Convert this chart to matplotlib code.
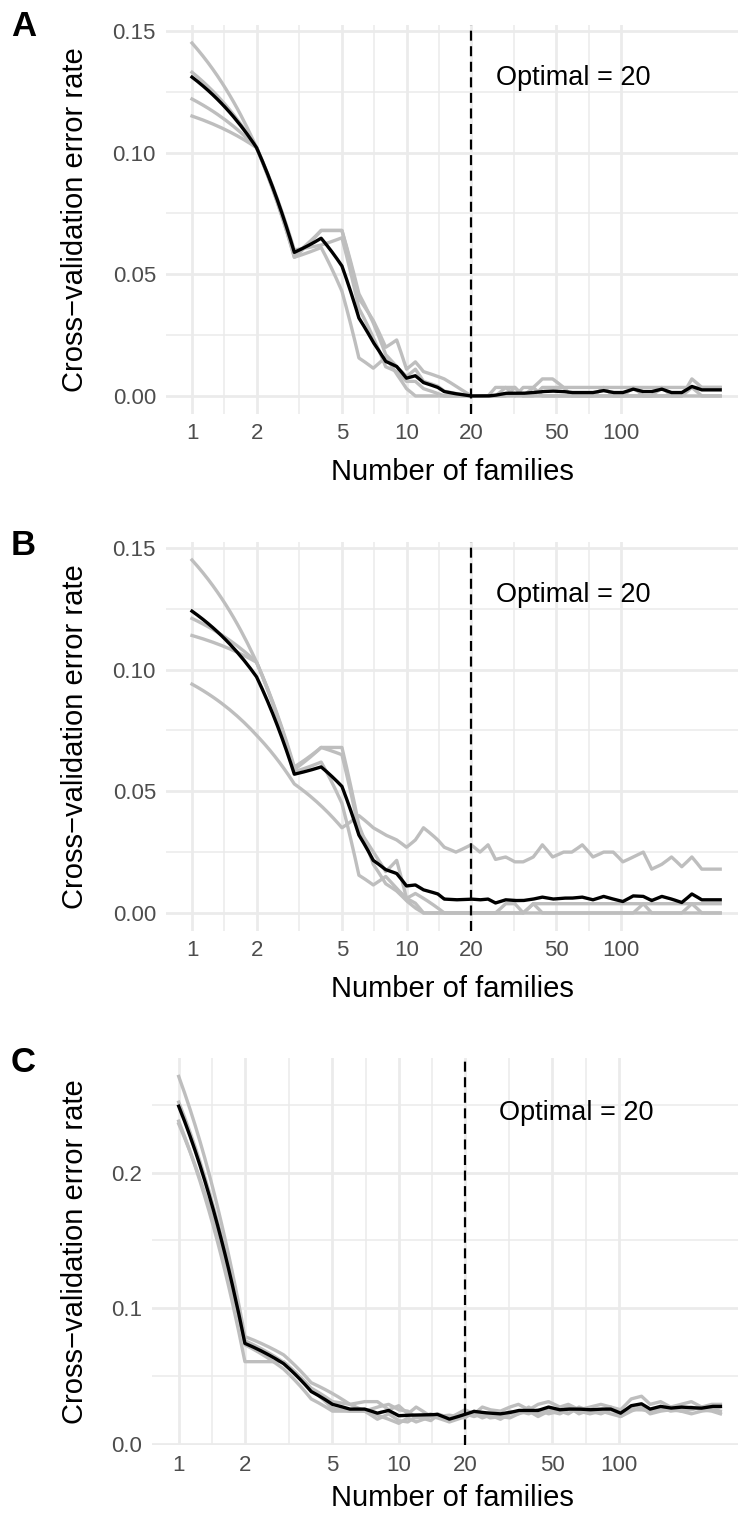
import numpy as np
import matplotlib
matplotlib.use("Agg")
import matplotlib.pyplot as plt
from matplotlib.ticker import NullFormatter

plt.rcParams["font.family"] = ["Liberation Sans", "DejaVu Sans"]

# number of families kept in each model
families = [1, 2, 3, 4, 5, 6, 7, 8, 9, 10, 11, 12, 14, 15, 17, 20,
            22, 24, 26, 29, 32, 35, 39, 43, 48, 54, 59, 66, 74, 83, 92,
            102, 114, 127, 139, 155, 172, 192, 214, 238, 265, 290]
optimal = 20

# panel A: mean error and the four folds
a_mean = [.131, .102, .059, .0648, .0534, .032, .022, .0142, .0121, .0073, .0083, .0055, .0035, .0018, .0009, 0,
          0, 0, .0003, .0011, .0011, .0011, .0014, .0018, .0020, .0018, .0014, .0014, .0014, .0022, .0014,
          .0014, .0028, .0018, .0018, .0028, .0014, .0014, .0039, .0025, .0025, .0025]
a_fold1 = [.145, .102, .057, .068, .068, .040, .031, .020, .023, .011, .014, .010, .008, .007, .004, 0,
           0, 0, .0035, .0035, 0, .0035, .0035, .007, .007, .0035, .0035, .0035, .0035, .0035, .0035,
           .0035, .0035, .0035, .0035, .0035, .0035, .0035, .0035, .0035, .0035, .0035]
a_fold2 = [.133, .102, .058, .068, .068, .042, .030, .017, .012, .008, .011, .006, .004, .002, .001, 0,
           0, 0, 0, 0, .0035, 0, 0, .0035, .0035, .0035, 0, 0, 0, .0035, 0,
           0, .0035, 0, 0, .0035, 0, 0, .007, .0035, .0035, .0035]
a_fold3 = [.122, .102, .060, .062, .065, .036, .024, .012, .010, .006, .006, .003, .001, 0, 0, 0,
           0, 0, 0, .0035, .0035, 0, .0035, 0, 0, 0, 0, 0, 0, 0, 0,
           0, 0, 0, 0, 0, 0, 0, .0035, 0, 0, 0]
a_fold4 = [.115, .102, .057, .061, .043, .0156, .0114, .016, .009, .003, 0, 0, 0, 0, 0, 0,
           0, 0, 0, 0, 0, 0, 0, 0, 0, 0, 0, 0, 0, 0, 0,
           0, 0, 0, 0, 0, 0, 0, 0, 0, 0, 0]

# panel B
b_mean = [.124, .097, .057, .060, .052, .032, .0216, .0178, .0162, .0111, .0115, .0095, .0078, .0057, .0054, .0057,
          .0054, .0057, .0041, .0054, .0051, .0051, .0057, .0065, .0057, .0061, .0061, .0065, .0054, .0068, .0057,
          .0047, .0070, .0068, .0051, .0068, .0057, .0043, .0078, .0054, .0054, .0054]
b_fold1 = [.145, .103, .060, .068, .068, .036, .020, .012, .009, .005, .002, 0, 0, 0, 0, 0,
           0, 0, 0, 0, 0, 0, .0038, 0, 0, 0, 0, 0, 0, 0, 0,
           0, 0, .0038, 0, 0, 0, 0, .0038, 0, 0, 0]
b_fold2 = [.121, .103, .059, .068, .065, .034, .025, .017, .0216, .006, .008, .006, .002, 0, 0, 0,
           0, 0, 0, .0038, .0038, 0, .0038, .0038, .0038, .0038, .0038, .0038, .0038, .0038, .0038,
           .0038, .0038, .0038, .0038, .0038, .0038, .0038, .0038, .0038, .0038, .0038]
b_fold3 = [.114, .103, .058, .062, .045, .0155, .0115, .015, .010, .006, .004, 0, 0, 0, 0, 0,
           0, 0, 0, 0, 0, 0, 0, 0, 0, 0, 0, 0, 0, 0, 0,
           0, 0, 0, 0, 0, 0, 0, 0, 0, 0, 0]
b_fold4 = [.094, .073, .053, .044, .035, .040, .035, .032, .030, .027, .030, .035, .030, .027, .025, .028,
           .025, .028, .022, .023, .021, .021, .023, .028, .023, .025, .025, .028, .023, .025, .025,
           .021, .023, .025, .018, .020, .023, .019, .023, .018, .018, .018]

# panel C
c_mean = [.249, .074, .059, .0385, .029, .0255, .0255, .0225, .0245, .0206, .021, .0211, .0213, .0216, .0181, .0216,
          .0238, .023, .0225, .022, .023, .0245, .0245, .0245, .027, .025, .0255, .0255, .025, .0255, .0255,
          .0225, .028, .0294, .0255, .0275, .0262, .027, .0265, .0262, .0275, .0275]
c_fold1 = [.271, .079, .0655, .045, .037, .029, .031, .031, .025, .028, .022, .027, .020, .022, .019, .025,
           .022, .027, .025, .024, .027, .029, .025, .029, .031, .027, .029, .025, .027, .029, .027,
           .025, .033, .035, .029, .031, .027, .029, .031, .027, .029, .029]
c_fold2 = [.252, .076, .060, .041, .031, .029, .024, .027, .029, .025, .024, .019, .022, .020, .021, .019,
           .024, .021, .022, .020, .024, .022, .027, .022, .025, .024, .022, .027, .024, .022, .025,
           .022, .027, .029, .024, .025, .027, .024, .025, .027, .025, .027]
c_fold3 = [.238, .0605, .0605, .040, .026, .024, .024, .018, .022, .017, .016, .020, .017, .021, .018, .022,
           .020, .022, .019, .020, .019, .022, .024, .020, .024, .022, .025, .024, .022, .024, .022,
           .020, .024, .027, .022, .024, .025, .024, .022, .024, .025, .024]
c_fold4 = [.236, .073, .055, .033, .024, .024, .024, .021, .018, .015, .019, .016, .020, .019, .016, .020,
           .022, .019, .021, .018, .022, .024, .022, .025, .022, .024, .027, .022, .025, .024, .027,
           .020, .025, .025, .024, .027, .024, .025, .027, .025, .024, .022]

x_breaks = [1, 2, 5, 10, 20, 50, 100]
x_minor = [10 ** ((np.log10(a) + np.log10(b)) / 2) for a, b in zip(x_breaks[:-1], x_breaks[1:])]

W, H = 738, 1513
fig = plt.figure(figsize=(W / 100, H / 100), dpi=100)
fig.patch.set_facecolor("white")


def px_rect(left, right, top, bottom):
    return [left / W, 1 - bottom / H, (right - left) / W, (bottom - top) / H]


def bent(x, y, n=16):
    # segments are straight in data units, so they bend on the log axis
    x = np.asarray(x, float)
    y = np.asarray(y, float)
    t = np.linspace(0, 1, n, endpoint=False)
    xs = np.concatenate([x[i] + t * (x[i + 1] - x[i]) for i in range(len(x) - 1)] + [x[-1:]])
    ys = np.concatenate([y[i] + t * (y[i + 1] - y[i]) for i in range(len(y) - 1)] + [y[-1:]])
    return xs, ys


panels = [
    dict(letter="A", mean=a_mean, folds=[a_fold1, a_fold2, a_fold3, a_fold4],
         rect=(165.6, 738, 25.4, 413.6), x1=192, ppd=214.5, ylim=(-0.00725, 0.15225),
         yticks=[0, .05, .10, .15], yfmt="{:.2f}", yminor=[.025, .075, .125],
         note_xy=(60, 0.1305), letter_y=27, xlab_y=472),
    dict(letter="B", mean=b_mean, folds=[b_fold1, b_fold2, b_fold3, b_fold4],
         rect=(165.6, 738, 542.4, 930.6), x1=192, ppd=214.5, ylim=(-0.00725, 0.15225),
         yticks=[0, .05, .10, .15], yfmt="{:.2f}", yminor=[.025, .075, .125],
         note_xy=(60, 0.1305), letter_y=546, xlab_y=989),
    dict(letter="C", mean=c_mean, folds=[c_fold1, c_fold2, c_fold3, c_fold4],
         rect=(151.6, 738, 1058, 1445), x1=178.7, ppd=220, ylim=(-0.001, 0.2846),
         yticks=[0, .1, .2], yfmt="{:.1f}", yminor=[.05, .15, .25],
         note_xy=(64, 0.244), letter_y=1063, xlab_y=1498),
]

grid_col = "#EBEBEB"
for p in panels:
    left, right, top, bottom = p["rect"]
    ax = fig.add_axes(px_rect(left, right, top, bottom))
    ax.set_xscale("log")
    lo = 10 ** ((left - p["x1"]) / p["ppd"])
    hi = 10 ** ((right - p["x1"]) / p["ppd"])
    ax.set_xlim(lo, hi)
    ax.set_ylim(*p["ylim"])

    ax.set_xticks(x_breaks)
    ax.set_xticklabels([str(v) for v in x_breaks])
    ax.set_xticks(x_minor, minor=True)
    ax.xaxis.set_minor_formatter(NullFormatter())
    ax.set_yticks(p["yticks"])
    ax.set_yticklabels([p["yfmt"].format(v) for v in p["yticks"]])
    ax.set_yticks(p["yminor"], minor=True)
    ax.yaxis.set_minor_formatter(NullFormatter())
    ax.grid(which="major", color=grid_col, lw=2.0)
    ax.grid(which="minor", color=grid_col, lw=1.1)
    ax.set_axisbelow(True)
    for s in ax.spines.values():
        s.set_visible(False)
    ax.tick_params(which="both", length=0, labelsize=16, labelcolor="#4D4D4D")
    ax.tick_params(axis="y", pad=7)
    ax.tick_params(axis="x", pad=7)

    for fold in p["folds"]:
        xs, ys = bent(families, fold)
        ax.plot(xs, ys, color="#BEBEBE", lw=2.4, solid_joinstyle="round", zorder=2)
    xs, ys = bent(families, p["mean"])
    ax.plot(xs, ys, color="black", lw=2.4, solid_joinstyle="round", zorder=3)
    ax.axvline(optimal, color="black", lw=1.6, ls=(0, (4.5, 2.5)), zorder=4)

    ax.text(p["note_xy"][0], p["note_xy"][1], f"Optimal = {optimal}",
            ha="center", va="center", fontsize=19.5, color="black")

    fig.text(75 / W, 1 - (top + bottom) / 2 / H, "Cross\u2212validation error rate",
             rotation=90, ha="center", va="center", fontsize=21)
    fig.text(452 / W, 1 - p["xlab_y"] / H, "Number of families",
             ha="center", va="center", fontsize=21)
    fig.text(23.5 / W, 1 - p["letter_y"] / H, p["letter"],
             ha="center", va="center", fontsize=25, fontweight="bold")

fig.savefig("out.png", dpi=100, facecolor="white")
